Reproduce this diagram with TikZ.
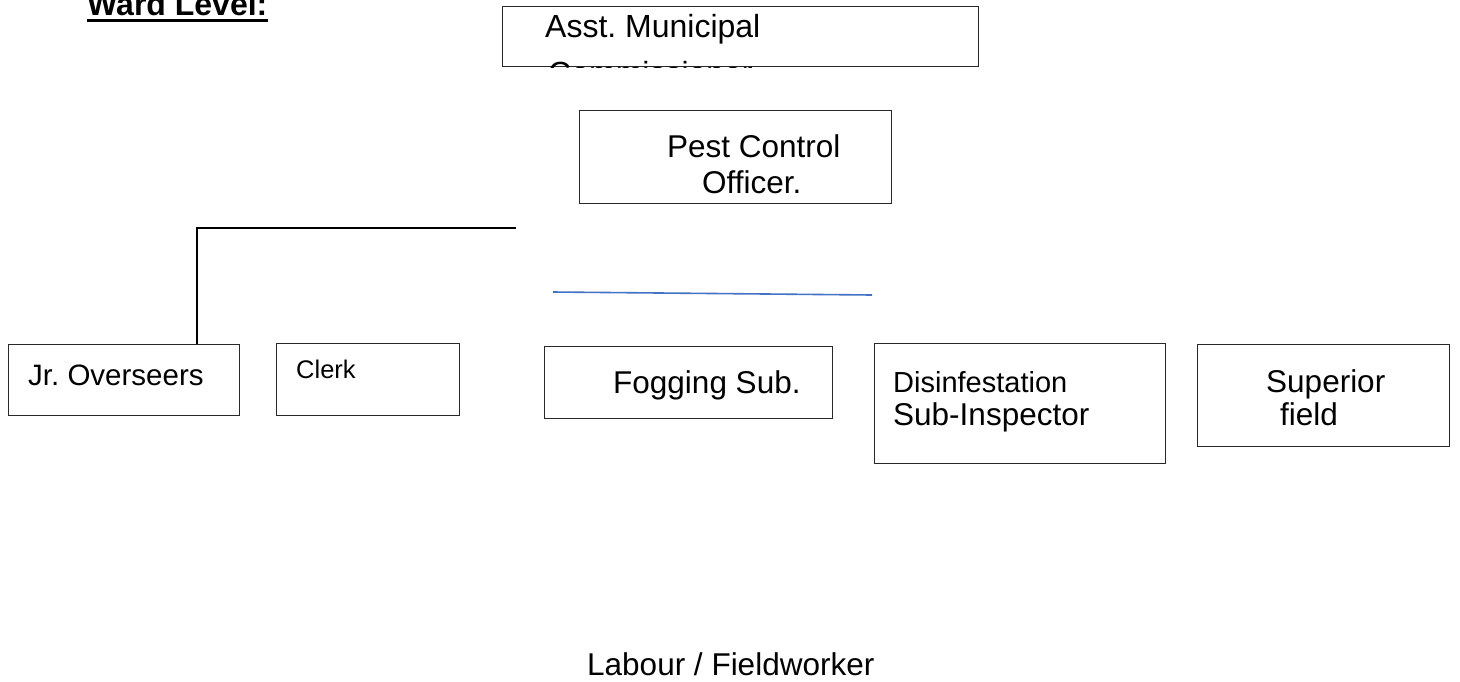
\documentclass[tikz,border=0pt]{standalone}
\usepackage{fontspec}
\setmainfont{Liberation Sans}
\frenchspacing
\definecolor{boxline}{RGB}{40,40,40}
\definecolor{blueline}{RGB}{68,114,196}
\tikzset{
  box/.style={draw=boxline, line width=1.1pt, rectangle, inner sep=0pt, anchor=north west},
  txt/.style={inner sep=0pt, anchor=base west, text=black},
  fbig/.style={font=\fontsize{31.5}{36}\selectfont},
  fsmall/.style={font=\fontsize{25.5}{30}\selectfont},
}
\begin{document}
\begin{tikzpicture}[x=1pt,y=-1pt]
\useasboundingbox (0,0) rectangle (1460,681);
\fill[white] (0,0) rectangle (1460,681);

% heading
\node[txt, font=\bfseries\fontsize{32}{36}\selectfont] (ward) at (87,15) {Ward Level:};
\draw[line width=2.4pt, black] (ward.base west) ++(0,5.5) coordinate (ul1) -- (ul1 -| ward.base east);

% boxes
\node[box, minimum width=476pt, minimum height=60pt] (amc) at (502,6) {};
\node[box, minimum width=312pt, minimum height=93pt] (pco) at (579,110) {};
\node[box, minimum width=231pt, minimum height=71pt] (jr) at (8,344) {};
\node[box, minimum width=183pt, minimum height=72pt] (clerk) at (276,343) {};
\node[box, minimum width=288pt, minimum height=72pt] (fog) at (544,346) {};
\node[box, minimum width=291pt, minimum height=120pt] (dis) at (874,343) {};
\node[box, minimum width=252pt, minimum height=102pt] (sup) at (1197,344) {};

% texts
\node[txt, font=\fontsize{32}{36}\selectfont] (amct) at (545,37) {Asst. Municipal};
\begin{scope}
  \clip (amc.north west) rectangle (amc.south east);
  \node[txt, font=\fontsize{32}{36}\selectfont] (amct2) at (548,84) {Commissioner};
\end{scope}
\node[txt, fbig] (pcot1) at (667,157) {Pest Control};
\node[txt, fbig] (pcot2) at (702,193) {Officer.};
\node[txt, font=\fontsize{29.5}{34}\selectfont] (jrt) at (28,385) {Jr. Overseers};
\node[txt, fsmall] (clerkt) at (296,378) {Clerk};
\node[txt, fbig] (fogt) at (613,393) {Fogging Sub.};
\node[txt, font=\fontsize{29}{34}\selectfont] (dist1) at (893,392) {Disinfestation};
\node[txt, fbig] (dist2) at (893,425) {Sub-Inspector};
\node[txt, fbig] (supt1) at (1266,392) {Superior};
\node[txt, fbig] (supt2) at (1280,425) {field};
\node[txt, fbig] (lab) at (587,675) {Labour / Fieldworker};

% connectors
\coordinate (hl) at (516,228);
\coordinate (corner) at (197,228);
\draw[line width=1.1pt, black] (hl) -- (corner) -- (corner |- jr.north);
\coordinate (b1) at (553,292);
\coordinate (b2) at (872,295);
\draw[line width=1.6pt, blueline] (b1) -- (b2);
\end{tikzpicture}
\end{document}
